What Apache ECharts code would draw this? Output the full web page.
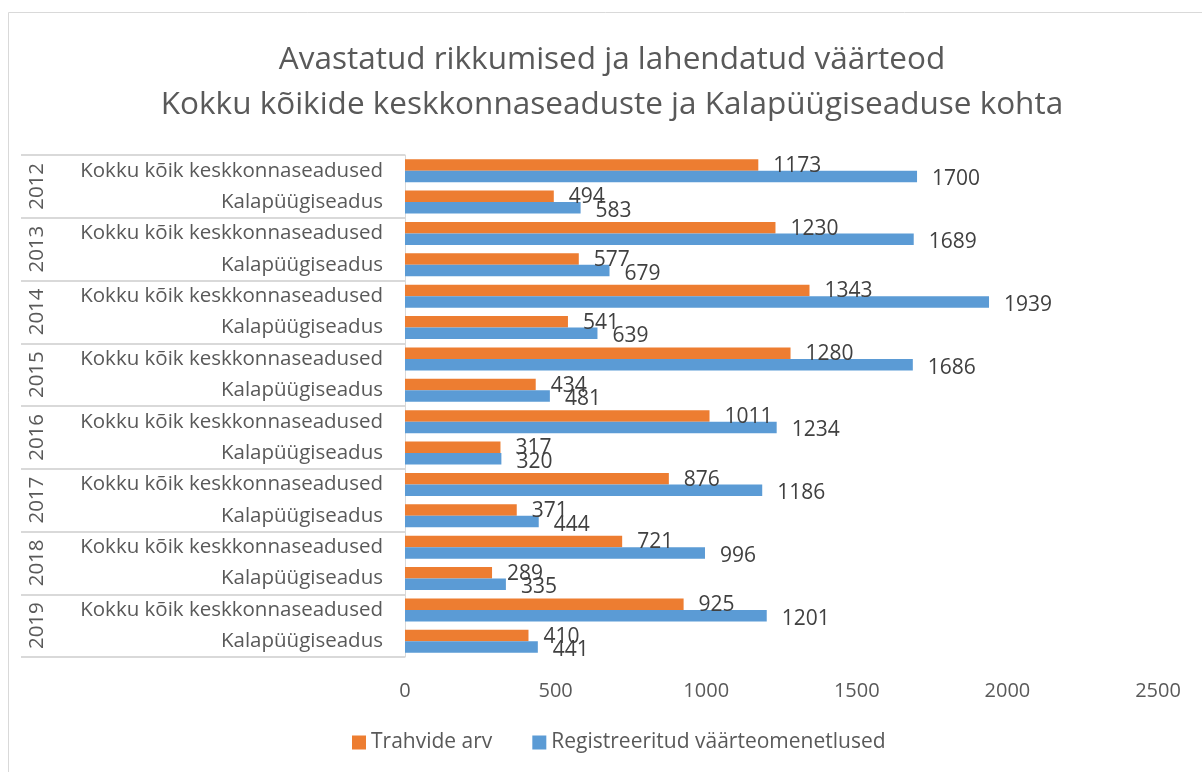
<!DOCTYPE html>
<html>
<head>
<meta charset="utf-8">
<script src="https://cdn.jsdelivr.net/npm/echarts@6/dist/echarts.min.js"></script>
<style>
  html, body { margin: 0; padding: 0; background: #fff; }
  #chart { width: 1202px; height: 772px; }
</style>
</head>
<body>
<div id="chart"></div>
<script>
var years = ['2012', '2013', '2014', '2015', '2016', '2017', '2018', '2019'];
var subNames = ['Kokku kõik keskkonnaseadused', 'Kalapüügiseadus'];

// per year: total of all environmental laws / fishing law
var fineTotal = [1173, 1230, 1343, 1280, 1011, 876, 721, 925];
var fineFish = [494, 577, 541, 434, 317, 371, 289, 410];
var procTotal = [1700, 1689, 1939, 1686, 1234, 1186, 996, 1201];
var procFish = [583, 679, 639, 481, 320, 444, 335, 441];

var xTicks = [0, 500, 1000, 1500, 2000, 2500];

var cats = [];
var fines = [];
var procs = [];
for (let i = 0; i < years.length; i++) {
  cats.push(subNames[0], subNames[1]);
  fines.push(fineTotal[i], fineFish[i]);
  procs.push(procTotal[i], procFish[i]);
}

var font = '"Open Sans", "Noto Sans", sans-serif';
var myChart = echarts.init(document.getElementById('chart'));

var option = {
  animation: false,
  textStyle: { fontFamily: font },
  graphic: [{
    type: 'rect',
    shape: { x: 8.5, y: 12.5, width: 1400, height: 900 },
    style: { fill: 'none', stroke: '#D9D9D9', lineWidth: 1 },
    silent: true
  }],
  title: {
    text: 'Avastatud rikkumised ja lahendatud väärteod\nKokku kõikide keskkonnaseaduste ja Kalapüügiseaduse kohta',
    left: 607,
    top: 33,
    textAlign: 'center',
    textStyle: {
      fontFamily: font,
      fontSize: 31.5,
      fontWeight: 'normal',
      color: '#595959',
      lineHeight: 45
    }
  },
  legend: {
    bottom: 14,
    left: 347,
    icon: 'rect',
    itemWidth: 14,
    itemHeight: 14,
    itemGap: 40,
    textStyle: { fontFamily: font, fontSize: 21, color: '#595959' },
    data: ['Trahvide arv', 'Registreeritud väärteomenetlused']
  },
  grid: { left: 405, right: 44, top: 155, bottom: 115 },
  xAxis: {
    type: 'value',
    min: xTicks[0],
    max: xTicks[xTicks.length - 1],
    interval: 500,
    axisLine: { show: false },
    axisTick: { show: false },
    splitLine: { show: false },
    axisLabel: {
      fontFamily: font, fontSize: 20, color: '#595959', margin: 24,
      formatter: function (v) { return String(v); }
    }
  },
  yAxis: [{
    type: 'category',
    data: cats,
    inverse: true,
    axisLine: { show: true, lineStyle: { color: '#D9D9D9', width: 1 } },
    axisTick: { show: false },
    axisLabel: { fontFamily: font, fontSize: 20.5, color: '#595959', margin: 22, interval: 0 }
  }, {
    type: 'category',
    data: years,
    inverse: true,
    position: 'left',
    axisLine: { show: false },
    axisTick: { show: true, length: 384, lineStyle: { color: '#D9D9D9', width: 2 } },
    axisLabel: {
      fontFamily: font, fontSize: 20.5, color: '#595959',
      rotate: 90, margin: 368, align: 'center', verticalAlign: 'middle', interval: 0
    }
  }],
  series: [{
    name: 'Trahvide arv',
    type: 'bar',
    yAxisIndex: 0,
    data: fines,
    barGap: '0%',
    barCategoryGap: '27%',
    itemStyle: { color: '#ED7D31' },
    label: {
      show: true, position: 'right', distance: 15, offset: [0, 1],
      fontFamily: font, fontSize: 21, color: '#404040'
    }
  }, {
    name: 'Registreeritud väärteomenetlused',
    type: 'bar',
    yAxisIndex: 0,
    data: procs,
    barGap: '0%',
    barCategoryGap: '27%',
    itemStyle: { color: '#5B9BD5' },
    label: {
      show: true, position: 'right', distance: 15, offset: [0, 3],
      fontFamily: font, fontSize: 21, color: '#404040'
    }
  }]
};

option && myChart.setOption(option);
</script>
</body>
</html>
